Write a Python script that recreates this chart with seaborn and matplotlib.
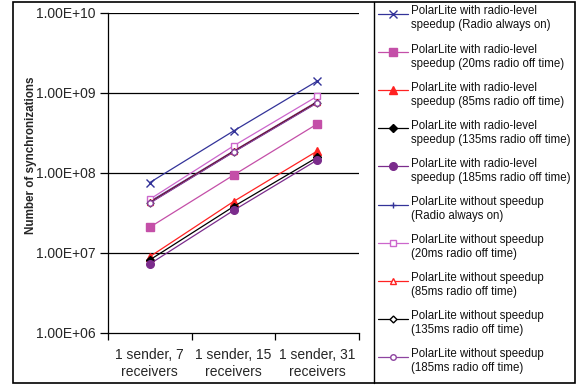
import matplotlib
matplotlib.use("Agg")
import matplotlib.pyplot as plt
from matplotlib.lines import Line2D
from matplotlib.patches import Rectangle
from matplotlib.ticker import FixedLocator, FuncFormatter, NullLocator
import numpy as np
import pandas as pd
import seaborn as sns

# Topologies on the x axis
categories = ["1 sender, 7\nreceivers", "1 sender, 15\nreceivers", "1 sender, 31\nreceivers"]

# Number of synchronizations per configuration
speedup_always_on = [7.6e7, 3.35e8, 1.41e9]
speedup_off20 = [2.1e7, 9.4e7, 4.1e8]
speedup_off85 = [9.0e6, 4.4e7, 1.88e8]
speedup_off135 = [8.2e6, 3.8e7, 1.57e8]
speedup_off185 = [7.3e6, 3.4e7, 1.45e8]
plain_always_on = [4.4e7, 1.88e8, 7.8e8]
plain_off20 = [4.7e7, 2.18e8, 9.1e8]
plain_off85 = [4.3e7, 1.86e8, 7.7e8]
plain_off135 = [4.25e7, 1.84e8, 7.6e8]
plain_off185 = [4.2e7, 1.82e8, 7.5e8]

series_labels = [
    "PolarLite with radio-level\nspeedup (Radio always on)",
    "PolarLite with radio-level\nspeedup (20ms radio off time)",
    "PolarLite with radio-level\nspeedup (85ms radio off time)",
    "PolarLite with radio-level\nspeedup (135ms radio off time)",
    "PolarLite with radio-level\nspeedup (185ms radio off time)",
    "PolarLite without speedup\n(Radio always on)",
    "PolarLite without speedup\n(20ms radio off time)",
    "PolarLite without speedup\n(85ms radio off time)",
    "PolarLite without speedup\n(135ms radio off time)",
    "PolarLite without speedup\n(185ms radio off time)",
]
series_values = [
    speedup_always_on, speedup_off20, speedup_off85, speedup_off135, speedup_off185,
    plain_always_on, plain_off20, plain_off85, plain_off135, plain_off185,
]

# Styling for each series
colors = ["#333399", "#C44FA8", "#FF2222", "#000000", "#7B2C8C",
          "#333399", "#CC66CC", "#FF2222", "#000000", "#8E44A0"]
markers = ["x", "s", "^", "D", "o", "+", "s", "^", "D", "o"]
filled = [True] * 5 + [False] * 5
msizes = [6, 5.5, 6, 4.5, 5.5, 5, 4, 4, 3.5, 4]

sns.set_theme(style="white")
plt.rcParams["font.family"] = ["Liberation Sans", "DejaVu Sans"]

fig = plt.figure(figsize=(5.77, 3.85), dpi=100)
W, H = 577, 385
ax = fig.add_axes([108 / W, 1 - 333 / H, (359 - 108) / W, (333 - 13) / H])

rows = []
for lab, vals in zip(series_labels, series_values):
    for i, v in enumerate(vals):
        rows.append({"series": lab, "pos": i + 1, "value": v})
df = pd.DataFrame(rows)

for k, lab in enumerate(series_labels):
    sub = df[df["series"] == lab]
    sns.lineplot(
        data=sub, x="pos", y="value", ax=ax,
        color=colors[k], linewidth=0.9, marker=markers[k],
        markersize=msizes[k],
        markerfacecolor=colors[k] if filled[k] else "white",
        markeredgecolor=colors[k], markeredgewidth=1.0,
        legend=False, zorder=3 + k,
    )

ax.set_yscale("log")
ax.set_ylim(1e6, 1e10)
ax.set_xlim(0.5, 3.5)

ax.yaxis.set_major_locator(FixedLocator([1e6, 1e7, 1e8, 1e9, 1e10]))
ax.yaxis.set_minor_locator(NullLocator())
ax.yaxis.set_major_formatter(FuncFormatter(lambda v, p: f"{v:.2E}"))
for y in [1e7, 1e8, 1e9, 1e10]:
    ax.axhline(y, color="black", linewidth=0.9, zorder=1)

# Category ticks sit between the groups; labels sit at the centres
ax.set_xticks([0.5, 1.5, 2.5, 3.5])
ax.set_xticklabels([])
ax.set_xticks([1, 2, 3], minor=True)
ax.set_xticklabels(categories, minor=True, fontsize=10, linespacing=1.25)
ax.tick_params(axis="x", which="minor", length=0, pad=11)
ax.tick_params(axis="x", which="major", direction="out", length=5, width=0.9,
               color="black", bottom=True)
ax.tick_params(axis="y", which="major", direction="out", length=6, width=0.9,
               color="black", left=True, labelsize=10, pad=3)

for side in ["top", "right"]:
    ax.spines[side].set_visible(False)
for side in ["left", "bottom"]:
    ax.spines[side].set_color("black")
    ax.spines[side].set_linewidth(0.9)
ax.set_xlabel("")
ax.set_ylabel("Number of synchronizations", fontsize=8.4, fontweight="bold")
ax.yaxis.set_label_coords((37 - 108) / (359 - 108), (333 - 155.5) / 320)
ax.patch.set_alpha(0)

# Outer frame and legend panel
fig.patches.append(Rectangle((12.5 / W, 1 - 383 / H), (575 - 12.5) / W, (383 - 2) / H,
                             transform=fig.transFigure, fill=False,
                             edgecolor="black", linewidth=1.2))
fig.lines.append(Line2D([374 / W, 374 / W], [1 - 383 / H, 1 - 2 / H],
                        transform=fig.transFigure, color="black", linewidth=1.0))

leg_ax = fig.add_axes([0, 0, 1, 1])
leg_ax.set_xlim(0, W)
leg_ax.set_ylim(H, 0)
leg_ax.axis("off")
for k, lab in enumerate(series_labels):
    yy = 14 + k * 38.1
    leg_ax.plot([378, 408], [yy, yy], color=colors[k], linewidth=0.9)
    leg_ax.plot([393], [yy], marker=markers[k], markersize=msizes[k],
                color=colors[k],
                markerfacecolor=colors[k] if filled[k] else "white",
                markeredgecolor=colors[k], markeredgewidth=1.0)
    leg_ax.text(411, yy - 8.5, lab, fontsize=8.3, va="top", ha="left",
                linespacing=1.22, color="#111111")

fig.savefig("out.png", dpi=100)
